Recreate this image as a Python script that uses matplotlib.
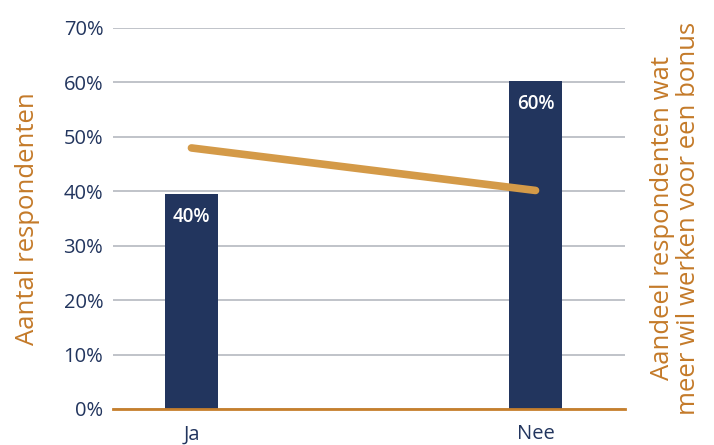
import matplotlib
matplotlib.use("Agg")
import matplotlib.pyplot as plt
from matplotlib.ticker import FuncFormatter

categories = ["Ja", "Nee"]
aantal = [39.5, 60.2]          # bars, % of respondents
aandeel = [47.9, 40.1]         # line, % wanting to work more for a bonus
yticks = [0, 10, 20, 30, 40, 50, 60, 70]

navy = "#22355E"
orange_line = "#D49A48"
orange_text = "#C47A29"
grid_c = "#C0C3C9"

plt.rcParams['font.family'] = ['Open Sans', 'DejaVu Sans']

fig = plt.figure(figsize=(7.14, 4.45), dpi=100)
ax = fig.add_axes([113/714, 1-409/445, (625-113)/714, (409-27.5)/445])
x = list(range(len(categories)))
bars = ax.bar(x, aantal, width=0.154, color=navy, zorder=3)
ax.set_ylim(0, 70)
ax.set_xlim(-0.228, 1.26)
ax.set_yticks(yticks)
ax.yaxis.set_major_formatter(FuncFormatter(lambda v, p: f"{v:.0f}%"))
ax.set_xticks(x)
ax.set_xticklabels(categories)
ax.tick_params(axis='both', length=0, labelsize=14.5, colors=navy)
ax.tick_params(axis='y', pad=7)
ax.tick_params(axis='x', pad=11)
ax.grid(axis='y', color=grid_c, linewidth=1.4, zorder=0)
for s in ['top', 'right', 'left']:
    ax.spines[s].set_visible(False)
ax.spines['bottom'].set_color("#C67F2C")
ax.spines['bottom'].set_linewidth(2)
ax.spines['bottom'].set_zorder(4)
ax.set_ylabel("Aantal respondenten", color=orange_text, fontsize=18.5, labelpad=17)

for b, v in zip(bars, aantal):
    ax.text(b.get_x() + b.get_width()/2, v - 4.3, f"{round(v)}%", ha='center', va='center',
            color='white', fontsize=13.5, fontweight='semibold', zorder=5)

ax2 = ax.twinx()
ax2.set_ylim(0, 70)
ax2.plot(x, aandeel, color=orange_line, linewidth=5.5, solid_capstyle='round', zorder=4)
ax2.set_yticks([])
for s in ax2.spines.values():
    s.set_visible(False)
ax2.set_ylabel("Aandeel respondenten wat\nmeer wil werken voor een bonus", color=orange_text,
               fontsize=18.5, labelpad=18, linespacing=1.05)

fig.savefig("out.png", dpi=100)
